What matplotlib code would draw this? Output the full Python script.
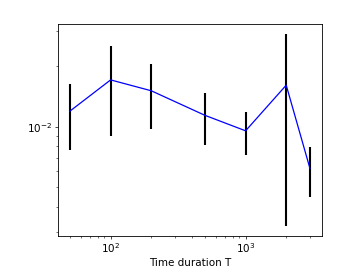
import numpy as np
import matplotlib
matplotlib.use('Agg')
import matplotlib.pyplot as plt

durations = [50, 100, 200, 500, 1000, 2000, 3000]
errors = [0.01197, 0.0171, 0.0151, 0.0114, 0.00955, 0.0161, 0.0062]
stds = [0.0043, 0.0081, 0.0054, 0.0033, 0.0023, 0.0129, 0.0017]

fig = plt.figure(figsize=(3.46, 2.77), dpi=100)
ax = fig.add_axes([0.1676, 0.148, 0.763, 0.765])

ax.errorbar(durations, errors, yerr=stds, fmt='none', ecolor='k', elinewidth=1.5)
ax.plot(durations, errors, color='b', linewidth=0.9)
ax.set_xscale('log')
ax.set_yscale('log')
ax.set_xlabel('Time duration T', fontsize=7.5, labelpad=2)

ax.tick_params(which='major', labelsize=7.5, length=2, width=0.5, pad=2)
ax.tick_params(which='minor', length=1.1, width=0.4)
for s in ax.spines.values():
    s.set_linewidth(0.6)

fig.savefig('out.png', dpi=100)
